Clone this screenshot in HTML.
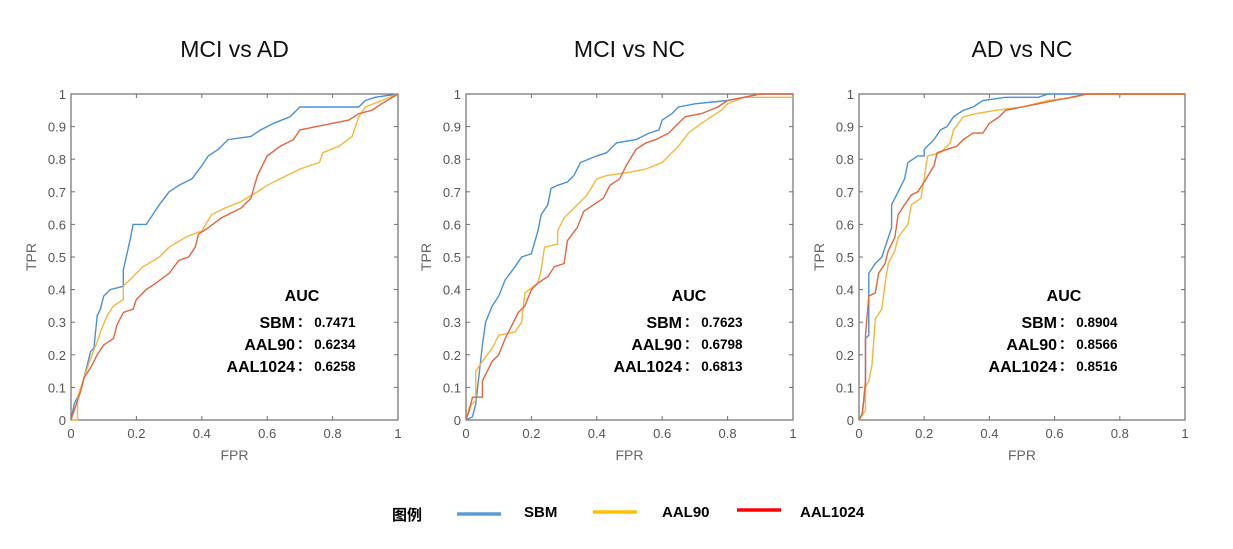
<!DOCTYPE html>
<html><head><meta charset="utf-8"><style>
body{margin:0;background:#fff;width:1233px;height:549px;overflow:hidden}
svg{display:block;font-family:"Liberation Sans","Noto Sans CJK SC",sans-serif}
</style></head><body>
<svg id="fig" width="1233" height="549"></svg>
<script>
const panelTitles=["MCI vs AD","MCI vs NC","AD vs NC"];
const seriesNames=["SBM","AAL90","AAL1024"];
const seriesColors=["#4a90d6","#f5b73b","#e4643f"];
const legendColors=["#5b9bd5","#ffc000","#ff0000"];
const xTicks=[0,0.2,0.4,0.6,0.8,1];
const yTicks=[0,0.1,0.2,0.3,0.4,0.5,0.6,0.7,0.8,0.9,1];
const aucValues=[["0.7471","0.6234","0.6258"],["0.7623","0.6798","0.6813"],["0.8904","0.8566","0.8516"]];
const p1SBM=[[0,0],[0.01,0.05],[0.03,0.09],[0.05,0.17],[0.06,0.21],[0.07,0.22],[0.08,0.32],[0.09,0.34],[0.1,0.38],[0.12,0.40],[0.16,0.41],[0.16,0.46],[0.18,0.55],[0.19,0.60],[0.23,0.60],[0.25,0.63],[0.27,0.66],[0.3,0.70],[0.33,0.72],[0.37,0.74],[0.4,0.78],[0.42,0.81],[0.45,0.83],[0.48,0.86],[0.55,0.87],[0.58,0.89],[0.62,0.91],[0.67,0.93],[0.7,0.96],[0.88,0.96],[0.9,0.98],[0.93,0.99],[1,1]];
const p1AAL90=[[0,0],[0.02,0],[0.02,0.07],[0.04,0.13],[0.06,0.19],[0.08,0.24],[0.09,0.27],[0.11,0.32],[0.13,0.35],[0.16,0.37],[0.16,0.41],[0.2,0.45],[0.22,0.47],[0.27,0.50],[0.3,0.53],[0.35,0.56],[0.4,0.58],[0.43,0.63],[0.47,0.65],[0.52,0.67],[0.57,0.70],[0.6,0.72],[0.66,0.75],[0.7,0.77],[0.76,0.79],[0.77,0.82],[0.82,0.84],[0.86,0.87],[0.88,0.93],[0.9,0.96],[0.95,0.98],[1,1]];
const p1AAL1024=[[0,0],[0.01,0.03],[0.03,0.09],[0.04,0.13],[0.06,0.16],[0.08,0.2],[0.1,0.23],[0.13,0.25],[0.14,0.29],[0.16,0.33],[0.19,0.34],[0.2,0.37],[0.23,0.40],[0.26,0.42],[0.3,0.45],[0.33,0.49],[0.36,0.50],[0.38,0.53],[0.39,0.57],[0.42,0.59],[0.46,0.62],[0.52,0.65],[0.55,0.68],[0.57,0.75],[0.6,0.81],[0.64,0.84],[0.68,0.86],[0.7,0.89],[0.75,0.90],[0.8,0.91],[0.85,0.92],[0.88,0.94],[0.92,0.95],[0.95,0.97],[1,1]];
const p2SBM=[[0,0],[0.02,0.01],[0.03,0.05],[0.04,0.14],[0.05,0.23],[0.06,0.30],[0.08,0.35],[0.1,0.38],[0.12,0.43],[0.15,0.47],[0.17,0.50],[0.2,0.51],[0.22,0.58],[0.23,0.63],[0.25,0.66],[0.26,0.71],[0.28,0.72],[0.31,0.73],[0.33,0.75],[0.35,0.79],[0.4,0.81],[0.43,0.82],[0.46,0.85],[0.52,0.86],[0.56,0.88],[0.59,0.89],[0.6,0.92],[0.63,0.94],[0.65,0.96],[0.7,0.97],[0.8,0.98],[0.85,0.99],[0.9,1],[1,1]];
const p2AAL90=[[0,0],[0.01,0.04],[0.03,0.06],[0.03,0.15],[0.05,0.18],[0.08,0.22],[0.1,0.26],[0.15,0.27],[0.17,0.30],[0.18,0.39],[0.22,0.42],[0.23,0.46],[0.24,0.53],[0.28,0.54],[0.28,0.58],[0.3,0.62],[0.33,0.65],[0.37,0.69],[0.4,0.74],[0.43,0.75],[0.5,0.76],[0.55,0.77],[0.6,0.79],[0.62,0.81],[0.65,0.84],[0.68,0.88],[0.72,0.91],[0.75,0.93],[0.78,0.95],[0.8,0.97],[0.85,0.99],[1,0.99]];
const p2AAL1024=[[0,0],[0.01,0.03],[0.02,0.07],[0.05,0.07],[0.05,0.12],[0.08,0.18],[0.1,0.2],[0.12,0.25],[0.14,0.29],[0.16,0.33],[0.18,0.35],[0.2,0.40],[0.22,0.42],[0.25,0.44],[0.27,0.47],[0.3,0.48],[0.31,0.55],[0.34,0.59],[0.36,0.64],[0.39,0.66],[0.42,0.68],[0.44,0.72],[0.47,0.74],[0.49,0.78],[0.52,0.83],[0.55,0.85],[0.58,0.86],[0.62,0.88],[0.65,0.91],[0.67,0.93],[0.72,0.94],[0.77,0.96],[0.8,0.98],[0.85,0.99],[0.9,1],[1,1]];
const p3SBM=[[0,0],[0.01,0.02],[0.02,0.1],[0.02,0.25],[0.03,0.26],[0.03,0.45],[0.05,0.48],[0.07,0.50],[0.08,0.53],[0.1,0.59],[0.1,0.66],[0.12,0.70],[0.14,0.74],[0.15,0.79],[0.18,0.81],[0.2,0.81],[0.2,0.83],[0.23,0.86],[0.25,0.89],[0.27,0.90],[0.29,0.93],[0.32,0.95],[0.35,0.96],[0.38,0.98],[0.45,0.99],[0.55,0.99],[0.58,1],[1,1]];
const p3AAL90=[[0,0],[0.02,0.03],[0.02,0.1],[0.03,0.12],[0.04,0.17],[0.05,0.31],[0.07,0.34],[0.08,0.42],[0.09,0.48],[0.11,0.52],[0.12,0.56],[0.15,0.60],[0.16,0.66],[0.19,0.68],[0.2,0.74],[0.21,0.81],[0.25,0.82],[0.28,0.85],[0.29,0.89],[0.32,0.93],[0.36,0.94],[0.42,0.95],[0.5,0.96],[0.58,0.98],[0.66,0.99],[0.7,1],[1,1]];
const p3AAL1024=[[0,0],[0.01,0.02],[0.02,0.12],[0.02,0.26],[0.03,0.38],[0.05,0.39],[0.06,0.45],[0.08,0.48],[0.09,0.52],[0.11,0.56],[0.12,0.63],[0.14,0.66],[0.16,0.69],[0.18,0.70],[0.2,0.73],[0.23,0.78],[0.24,0.82],[0.27,0.83],[0.3,0.84],[0.32,0.86],[0.35,0.88],[0.38,0.88],[0.4,0.91],[0.43,0.93],[0.45,0.95],[0.5,0.96],[0.55,0.97],[0.6,0.98],[0.65,0.99],[0.7,1],[1,1]];
const panelData=[[p1SBM,p1AAL90,p1AAL1024],[p2SBM,p2AAL90,p2AAL1024],[p3SBM,p3AAL90,p3AAL1024]];

const NS="http://www.w3.org/2000/svg";
const svg=document.getElementById("fig");
function mk(tag,attrs,parent,text){const e=document.createElementNS(NS,tag);for(const k in attrs)e.setAttribute(k,attrs[k]);if(text!==undefined)e.textContent=text;(parent||svg).appendChild(e);return e;}
const boxes=[{x0:71,x1:398},{x0:466,x1:793},{x0:859,x1:1185}];
const yTop=94,yBot=420;
const aucCenter=[302,689,1064];
panelTitles.forEach((t,pi)=>{
  const b=boxes[pi];
  const sx=v=>b.x0+v*(b.x1-b.x0);
  const sy=v=>yBot-v*(yBot-yTop);
  const g=mk("g",{});
  
  
  const title=mk("text",{x:(b.x0+b.x1)/2,y:57,"text-anchor":"middle","font-size":"23",fill:"#111"},g,t);
  
  
  const rect=mk("rect",{x:b.x0,y:yTop,width:b.x1-b.x0,height:yBot-yTop,fill:"none",stroke:"#6e6e6e","stroke-width":"1.2"},g);
  
  
  xTicks.forEach(v=>{
    const x=sx(v);
    mk("line",{x1:x,y1:yBot,x2:x,y2:yBot-4,stroke:"#6e6e6e"},g);
    mk("line",{x1:x,y1:yTop,x2:x,y2:yTop+4,stroke:"#6e6e6e"},g);
    const tl=mk("text",{x:x,y:yBot+18,"text-anchor":"middle","font-size":"13",fill:"#555"},g,String(v));
    
    
  });
  yTicks.forEach(v=>{
    const y=sy(v);
    mk("line",{x1:b.x0,y1:y,x2:b.x0+4,y2:y,stroke:"#6e6e6e"},g);
    mk("line",{x1:b.x1,y1:y,x2:b.x1-4,y2:y,stroke:"#6e6e6e"},g);
    const tl=mk("text",{x:b.x0-5,y:y+5,"text-anchor":"end","font-size":"13",fill:"#555"},g,String(v));
    
    
  });
  const xl=mk("text",{x:(b.x0+b.x1)/2,y:460,"text-anchor":"middle","font-size":"14",fill:"#666"},g,"FPR");
  
  
  const yx=b.x0-35,yy=(yTop+yBot)/2;
  const yl=mk("text",{x:yx,y:yy,"text-anchor":"middle","font-size":"14",fill:"#666",transform:`rotate(-90 ${yx} ${yy})`},g,"TPR");
  
  
  panelData[pi].forEach((pts,si)=>{
    const d=pts.map((p,i)=>(i?"L":"M")+sx(p[0]).toFixed(1)+","+sy(p[1]).toFixed(1)).join("");
    const path=mk("path",{d:d,fill:"none",stroke:seriesColors[si],"stroke-width":"1.4"},g);
    
    
  });
  const c=aucCenter[pi];
  const at=mk("text",{x:c,y:301,"text-anchor":"middle","font-size":"16","font-weight":"bold",fill:"#000"},g,"AUC");
  
  
  seriesNames.forEach((n,si)=>{
    const y=328+si*22;
    const nt=mk("text",{x:c-7,y:y,"text-anchor":"end","font-size":"16","font-weight":"bold",fill:"#000"},g,n);
    
    
    const vt=mk("text",{x:c-5,y:y-1,"font-size":"13.5","font-weight":"bold",fill:"#000"},g,"： "+aucValues[pi][si]);
    
    
  });
});
const lg=mk("g",{});


const lt=mk("text",{x:392,y:520,"font-size":"15","font-weight":"bold",fill:"#000"},lg,"图例");


const lineX=[457,593,737],textX=[524,662,800],lineY=[514,512,510];
seriesNames.forEach((n,si)=>{
  const ln=mk("line",{x1:lineX[si],y1:lineY[si],x2:lineX[si]+44,y2:lineY[si],stroke:legendColors[si],"stroke-width":"3.5"},lg);
  
  
  const tx=mk("text",{x:textX[si],y:517,"font-size":"15","font-weight":"bold",fill:"#000"},lg,n);
  
  
});
</script>
</body></html>
